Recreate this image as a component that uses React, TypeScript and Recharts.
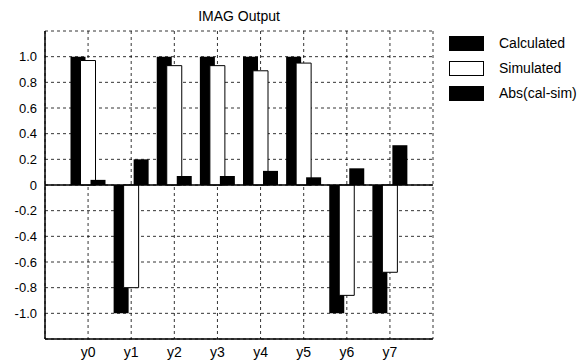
import React from "react";
import {
  BarChart,
  Bar,
  XAxis,
  YAxis,
  CartesianGrid,
  Legend,
  ReferenceLine,
} from "recharts";

// values
const categories = ["y0", "y1", "y2", "y3", "y4", "y5", "y6", "y7"];
const calculated = [1, -1, 1, 1, 1, 1, -1, -1];
const simulated = [0.97, -0.8, 0.93, 0.93, 0.89, 0.95, -0.86, -0.68];
const absDiff = [0.04, 0.2, 0.07, 0.07, 0.11, 0.06, 0.13, 0.31];
const seriesNames = ["Calculated", "Simulated", "Abs(cal-sim)"];
const yTicks = [-1, -0.8, -0.6, -0.4, -0.2, 0, 0.2, 0.4, 0.6, 0.8, 1];

const FONT = '"Liberation Sans", Arial, sans-serif';

const rows = categories.map((name, i) => ({
  name,
  calc: calculated[i],
  sim: simulated[i],
  diff: absDiff[i],
}));

const fmtY = (v: number) => (v === 0 ? "0" : v.toFixed(1));

// legend drawn as boxes on the right, like the original figure
const LegendBoxes = (props: any) => {
  const payload = [...(props.payload || [])].sort(
    (a: any, b: any) => seriesNames.indexOf(a.value) - seriesNames.indexOf(b.value)
  );
  return (
    <svg width={140} height={80} style={{ display: "block" }}>
      {payload.map((entry: any, i: number) => (
        <g key={entry.value} transform={`translate(0, ${i * 25})`}>
          <rect
            x={0.5}
            y={0.5}
            width={34}
            height={14}
            fill={entry.color}
            stroke="#000"
            strokeWidth={1}
          />
          <text x={50} y={12} fontSize={14} fontFamily={FONT} fill="#000">
            {entry.value}
          </text>
        </g>
      ))}
    </svg>
  );
};

export default function App() {
  return (
    <div
      style={{
        position: "absolute",
        left: 0,
        top: 0,
        width: 587,
        height: 363,
        background: "#fff",
        fontFamily: FONT,
      }}
    >
      <div
        style={{
          position: "absolute",
          left: 139,
          width: 200,
          top: 8,
          textAlign: "center",
          fontSize: 14,
          color: "#000",
        }}
      >
        IMAG Output
      </div>
      <BarChart
        width={587}
        height={363}
        data={rows}
        margin={{ top: 31, right: 154, left: 0, bottom: 0 }}
        barGap={-5}
        barSize={15}
      >
        <CartesianGrid stroke="#000" strokeDasharray="3 3" strokeWidth={0.8} />
        <XAxis
          dataKey="name"
          height={24}
          padding={{ left: 21.5, right: 21.5 }}
          axisLine={{ stroke: "#000", strokeWidth: 1.5 }}
          tickLine={false}
          tick={{ fill: "#000", fontSize: 14, fontFamily: FONT }}
        />
        <XAxis
          xAxisId="top"
          orientation="top"
          dataKey="name"
          height={0}
          padding={{ left: 21.5, right: 21.5 }}
          axisLine={{ stroke: "#000", strokeWidth: 1.5 }}
          tickLine={false}
          tick={false}
        />
        <YAxis
          width={45}
          domain={[-1.2, 1.2]}
          ticks={yTicks}
          tickFormatter={fmtY}
          interval={0}
          axisLine={{ stroke: "#000", strokeWidth: 1.5 }}
          tickLine={false}
          tick={{ fill: "#000", fontSize: 13, fontFamily: FONT }}
        />
        <YAxis
          yAxisId="right"
          orientation="right"
          width={0}
          domain={[-1.2, 1.2]}
          axisLine={{ stroke: "#000", strokeWidth: 1.5 }}
          tickLine={false}
          tick={false}
        />
        <ReferenceLine y={0} stroke="#000" strokeWidth={1.5} />
        <Legend
          layout="vertical"
          align="center"
          verticalAlign="middle"
          content={<LegendBoxes />}
          wrapperStyle={{ left: 449, top: 36, width: 140 }}
        />
        <Bar dataKey="calc" name="Calculated" fill="#000" isAnimationActive={false} />
        <Bar
          dataKey="sim"
          name="Simulated"
          fill="#fff"
          stroke="#000"
          strokeWidth={1}
          isAnimationActive={false}
        />
        <Bar dataKey="diff" name="Abs(cal-sim)" fill="#000" isAnimationActive={false} />
      </BarChart>
    </div>
  );
}
